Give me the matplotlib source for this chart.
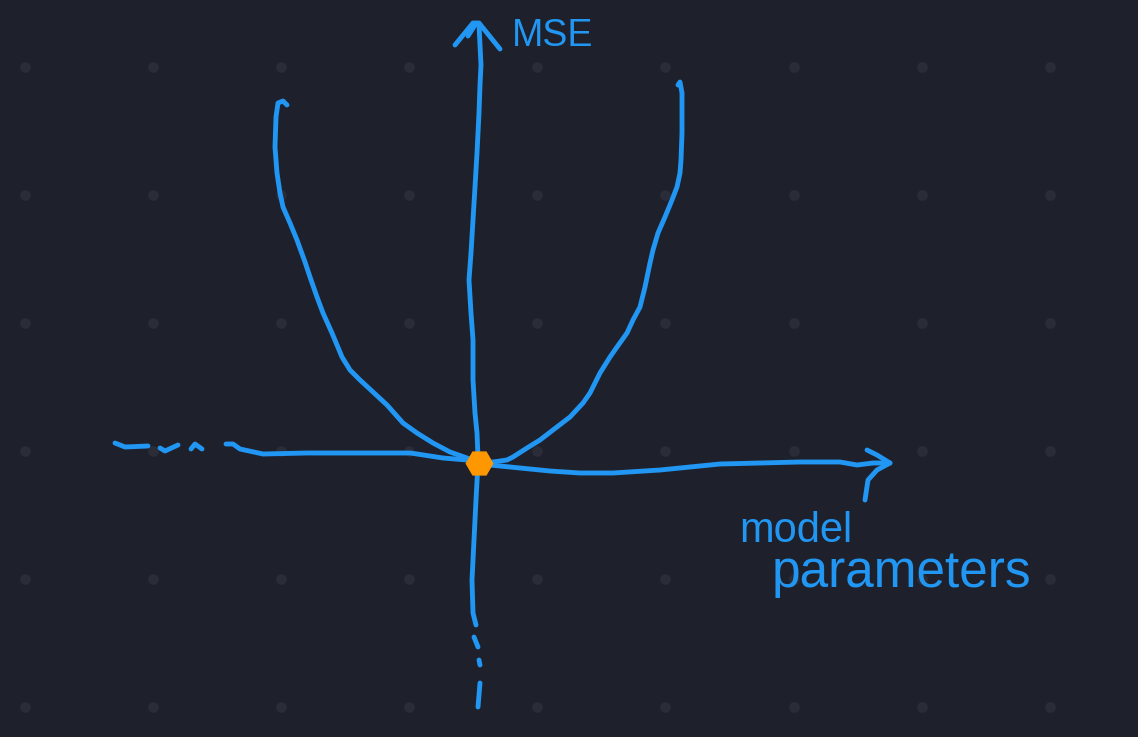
import numpy as np
import matplotlib.pyplot as plt

# sketch strokes, in picture pixels (x right, y down)
yaxis_x = [479, 480, 481, 480, 479, 477, 475, 473, 471, 469, 471, 473, 473, 475, 477, 478, 478, 476, 474, 472, 473, 476]
yaxis_y = [25, 45, 65, 85, 113, 153, 187, 220, 253, 280, 313, 340, 380, 413, 433, 457, 463, 500, 540, 580, 613, 625]

yarrow_x = [455, 473, 479, 500]
yarrow_y = [45, 23, 23, 49]
yarrow2_x = [468, 475]
yarrow2_y = [36, 25]

ydash_x = [[474, 478], [479, 480], [480, 478]]
ydash_y = [[637, 647], [660, 665], [683, 707]]

xaxis_x = [226, 233, 240, 263, 307, 333, 410, 417, 443, 467, 479, 490, 520, 550, 580, 613, 660, 720, 800, 840, 857, 873, 890]
xaxis_y = [444, 444, 449, 454, 453, 453, 453, 454, 458, 460, 463, 465, 468, 471, 473, 473, 470, 464, 462, 462, 465, 463, 463]

xarrow_x = [867, 877, 890, 877, 868, 865]
xarrow_y = [450, 455, 463, 470, 480, 500]

xdash_x = [[115, 125, 148], [160, 165, 178], [191, 195, 202]]
xdash_y = [[443, 447, 446], [448, 451, 445], [449, 444, 449]]

left_x = [287, 283, 278, 276, 275, 277, 280, 283, 290, 297, 305, 310, 317, 323, 332, 342, 350, 360,
          373, 387, 403, 417, 433, 450, 467, 479]
left_y = [105, 101, 103, 117, 147, 173, 193, 207, 223, 240, 262, 277, 297, 313, 333, 357, 370, 380,
          392, 405, 423, 433, 443, 452, 458, 463]

right_x = [678, 680, 682, 682, 681, 680, 677, 672, 665, 658, 653, 650, 645, 640, 633, 627, 617, 610,
           600, 590, 583, 570, 553, 540, 527, 513, 507, 493, 480]
right_y = [85, 82, 93, 133, 160, 173, 187, 200, 217, 233, 250, 263, 287, 307, 320, 333, 347, 357,
           373, 393, 403, 417, 430, 440, 448, 457, 460, 462, 463]

minimum = (479, 463)

bg = '#1e212b'
blue = '#2196f3'
orange = '#ff9800'

fig = plt.figure(figsize=(11.38, 7.37), dpi=100, facecolor=bg)
ax = fig.add_axes([0, 0, 1, 1])
ax.set_facecolor(bg)
ax.set_xlim(0, 1138)
ax.set_ylim(737, 0)
ax.axis('off')

# dotted background grid
gx, gy = np.meshgrid(25 + 128.1 * np.arange(9), 67 + 128 * np.arange(6))
ax.scatter(gx.ravel(), gy.ravel(), s=60, color='#2a2d38', lw=0, zorder=0)

kw = dict(color=blue, lw=3.5, solid_capstyle='round', solid_joinstyle='round')
ax.plot(yaxis_x, yaxis_y, **kw)
ax.plot(yarrow_x, yarrow_y, **kw)
ax.plot(yarrow2_x, yarrow2_y, **kw)
for dx, dy in zip(ydash_x, ydash_y):
    ax.plot(dx, dy, **kw)
ax.plot(xaxis_x, xaxis_y, **kw)
ax.plot(xarrow_x, xarrow_y, **kw)
for dx, dy in zip(xdash_x, xdash_y):
    ax.plot(dx, dy, **kw)
ax.plot(left_x, left_y, **kw)
ax.plot(right_x, right_y, **kw)

ax.plot(*minimum, marker='H', ms=19, color=orange, mec=orange, zorder=5)

sans = ['Liberation Sans', 'DejaVu Sans']
ax.text(512, 46, 'MSE', color=blue, fontsize=27, family=sans, va='baseline')
ax.text(739, 542, 'model', color=blue, fontsize=30, family=sans, va='baseline')
ax.text(772, 587, 'parameters', color=blue, fontsize=37, family=sans, va='baseline')

plt.savefig('out.png', dpi=100, facecolor=bg)
